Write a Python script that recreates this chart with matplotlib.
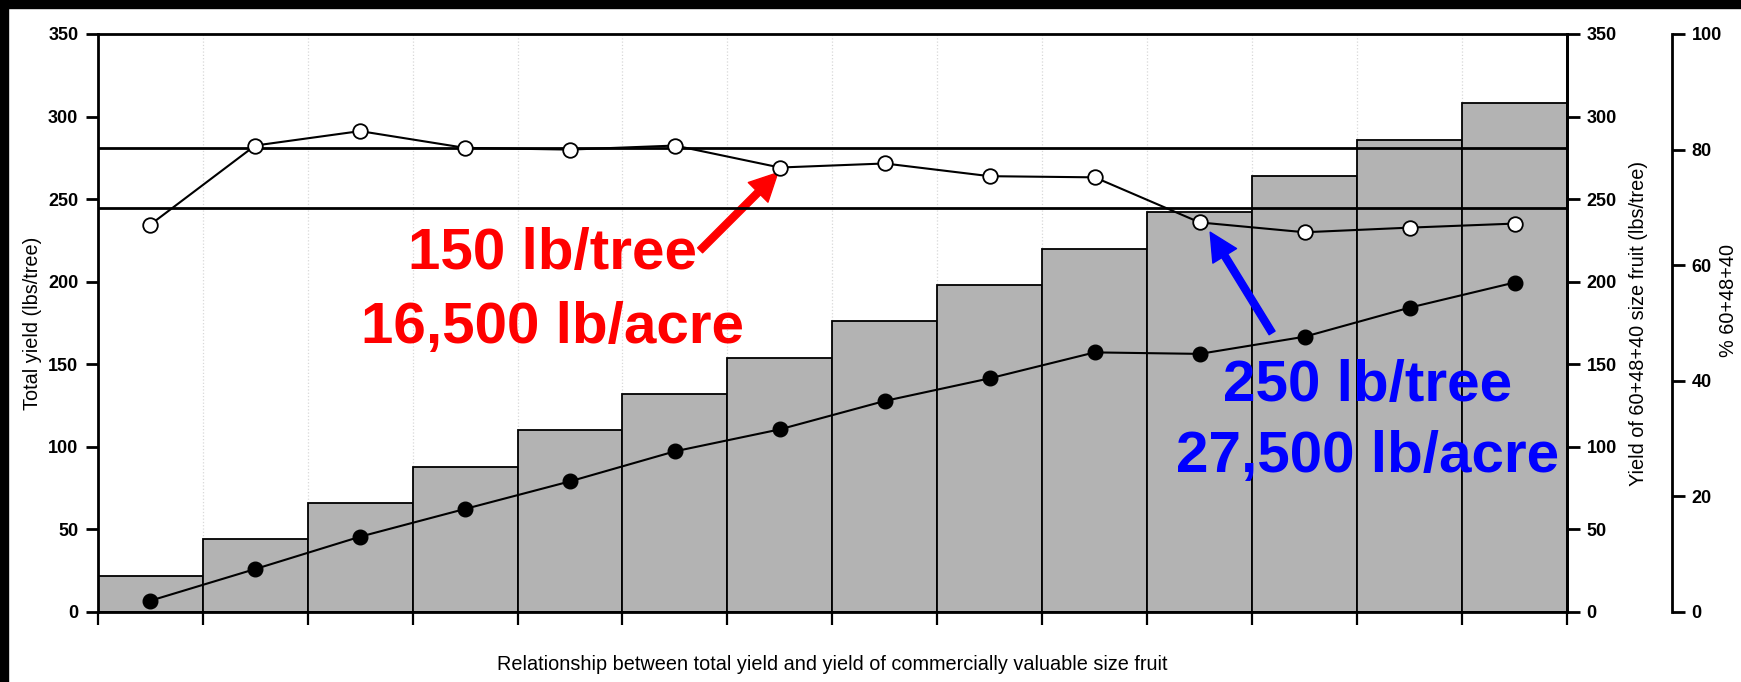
import numpy as np
import matplotlib.pyplot as plt
from matplotlib.patches import Rectangle

plt.rcParams['font.family'] = ['Liberation Sans', 'DejaVu Sans']
plt.rcParams['font.weight'] = 'bold'

# values
total_yield = [22, 44, 66, 88, 110, 132, 154, 176, 198, 220, 242, 264, 286, 308]
valuable_yield = [6.8, 26.0, 45.6, 62.4, 79.1, 97.3, 110.6, 127.8, 141.5, 157.2,
                  156.3, 166.7, 184.3, 199.5]
pct_valuable = [67.0, 80.7, 83.2, 80.3, 80.0, 80.7, 76.9, 77.6, 75.4, 75.2,
                67.4, 65.7, 66.5, 67.2]
ref_lines = [80.3, 69.9]
yield_ticks = [0, 50, 100, 150, 200, 250, 300, 350]
pct_ticks = [0, 20, 40, 60, 80, 100]

W, H = 1741, 682
x = np.arange(len(total_yield))

fig = plt.figure(figsize=(W / 100, H / 100), dpi=100)
ax = fig.add_axes([97.7 / W, (H - 612) / H, 1469.3 / W, 578 / H])

# bars: total yield
ax.bar(x, total_yield, width=1.0, color='#b3b3b3', edgecolor='black',
       linewidth=1.3, zorder=2)
ax.set_xlim(-0.5, len(x) - 0.5)
ax.set_ylim(0, 350)
ax.set_yticks(yield_ticks)
ax.set_xticks(np.arange(len(x) + 1) - 0.5)
ax.set_xticklabels([])
ax.set_axisbelow(True)
ax.grid(axis='x', color='#d8d8d8', linestyle=':', linewidth=0.9)
ax.tick_params(axis='y', direction='out', length=9, width=2, labelsize=13, pad=5)
ax.tick_params(axis='x', direction='out', length=9, width=1.6)
for s in ax.spines.values():
    s.set_linewidth(2)

# filled circles: yield of commercially valuable fruit
ax2 = ax.twinx()
ax2.set_ylim(0, 350)
ax2.set_yticks(yield_ticks)
ax2.plot(x, valuable_yield, 'o-', color='black', ms=10.5, lw=1.5, zorder=3)
ax2.tick_params(axis='y', direction='out', length=9, width=2, labelsize=13, pad=5)
for k in ['left', 'top', 'bottom']:
    ax2.spines[k].set_visible(False)
ax2.spines['right'].set_linewidth(2)

# open circles: percent valuable sizes
ax3 = ax.twinx()
ax3.spines['right'].set_position(('axes', 1.0715))
ax3.set_ylim(0, 100)
ax3.set_yticks(pct_ticks)
for v in ref_lines:
    ax3.axhline(v, color='black', lw=2, zorder=2)
ax3.plot(x, pct_valuable, 'o-', color='black', mfc='white', mec='black',
         mew=1.3, ms=10.5, lw=1.5, zorder=3)
ax3.tick_params(axis='y', direction='out', length=9, width=2, labelsize=13, pad=5)
for k in ['left', 'top', 'bottom']:
    ax3.spines[k].set_visible(False)
ax3.spines['right'].set_linewidth(2)

# annotations
ax2.text(3.83, 208, '150 lb/tree', color='red', fontsize=42, ha='center',
         va='baseline', zorder=5)
ax2.text(3.83, 163, '16,500 lb/acre', color='red', fontsize=42, ha='center',
         va='baseline', zorder=5)
ax2.text(11.6, 128, '250 lb/tree', color='blue', fontsize=42, ha='center',
         va='baseline', zorder=5)
ax2.text(11.6, 85, '27,500 lb/acre', color='blue', fontsize=42, ha='center',
         va='baseline', zorder=5)
ax2.annotate('', xy=(5.98, 266), xytext=(5.24, 219),
             arrowprops=dict(facecolor='red', edgecolor='red', width=5,
                             headwidth=20, headlength=20, shrink=0))
ax2.annotate('', xy=(10.1, 230), xytext=(10.69, 169),
             arrowprops=dict(facecolor='blue', edgecolor='blue', width=5,
                             headwidth=20, headlength=20, shrink=0))

# axis titles
fig.text(33 / W, 1 - 323 / H, 'Total yield (lbs/tree)', rotation=90,
         ha='center', va='center', fontsize=14.3, fontweight='normal')
fig.text(1638 / W, 1 - 323 / H, 'Yield of 60+48+40 size fruit (lbs/tree)',
         rotation=90, ha='center', va='center', fontsize=14.3, fontweight='normal')
fig.text(1728 / W, 1 - 300 / H, '% 60+48+40', rotation=90,
         ha='center', va='center', fontsize=14.3, fontweight='normal')
fig.text(832 / W, 1 - 665 / H,
         'Relationship between total yield and yield of commercially valuable size fruit',
         ha='center', va='center', fontsize=14.3, fontweight='normal')

# black frame on top and left edges
fig.add_artist(Rectangle((0, 1 - 8 / H), 1, 8 / H, transform=fig.transFigure,
                         color='black'))
fig.add_artist(Rectangle((0, 0), 8 / W, 1, transform=fig.transFigure,
                         color='black'))

fig.savefig('out.png', dpi=100)
